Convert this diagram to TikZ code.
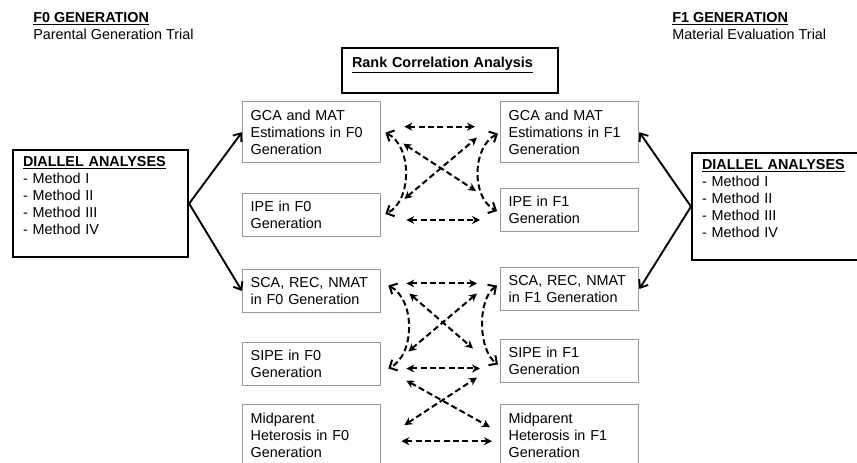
\documentclass[tikz,border=0pt]{standalone}
\usepackage{fontspec}
\setmainfont{Liberation Sans}
\usetikzlibrary{arrows.meta, calc}

\begin{document}
\begin{tikzpicture}[
    x=0.75pt, y=-0.75pt,
    every node/.style={font=\fontsize{10.8}{12.75}\selectfont},
    estbox/.style={draw=black!40, line width=1pt, anchor=north west, align=left,
      text width=91.5pt, inner xsep=6pt, inner ysep=2pt},
    tallbox/.style={estbox, minimum height=45.75pt},
    shortbox/.style={estbox, minimum height=32pt},
    thickbox/.style={draw, line width=1.6pt, anchor=north west, align=left,
      inner xsep=7.5pt, inner ysep=2pt},
    heading/.style={anchor=north west, align=left, inner sep=0pt},
    solidarrow/.style={-{Straight Barb[length=5pt,width=8pt]}, line width=1.4pt},
    dasharrow/.style={{Stealth[length=6pt,width=6pt]}-{Stealth[length=6pt,width=6pt]},
      line width=1.5pt, dash pattern=on 4.5pt off 2.5pt},
    curvearrow/.style={{Straight Barb[length=4.5pt,width=9pt]}-{Straight Barb[length=4.5pt,width=9pt]},
      line width=1.5pt, dash pattern=on 4.5pt off 2.5pt}
  ]
  \useasboundingbox (0,0) rectangle (857,463);

  % --- HEADINGS ---
  \node[heading] (hdA) at (33,12) {\underline{\textbf{F0 GENERATION}}\\Parental Generation Trial};
  \node[heading] (hdB) at (672,12) {\underline{\textbf{F1 GENERATION}}\\Material Evaluation Trial};
  \node[thickbox, text width=147pt, minimum height=33.75pt] (rank) at (341,47)
    {\underline{\textbf{Rank Correlation Analysis}}\\ \mbox{}};

  % --- DIALLEL BOXES ---
  \node[thickbox, text width=116.25pt, minimum height=80.25pt] (diaA) at (12,149)
    {\underline{\textbf{DIALLEL ANALYSES}}\\- Method I\\- Method II\\- Method III\\- Method IV\\ \mbox{}};
  \node[thickbox, text width=130pt, minimum height=80.25pt] (diaB) at (691,152)
    {\underline{\textbf{DIALLEL ANALYSES}}\\- Method I\\- Method II\\- Method III\\- Method IV\\ \mbox{}};

  % --- F0 COLUMN ---
  \node[tallbox] (gcaA) at (242,101) {GCA and MAT\\Estimations in F0\\Generation};
  \node[shortbox] (ipeA) at (242,193) {IPE in F0\\Generation};
  \node[shortbox] (scaA) at (242,269) {SCA, REC, NMAT\\in F0 Generation};
  \node[shortbox] (sipeA) at (242,342) {SIPE in F0\\Generation};
  \node[tallbox] (midA) at (242,404) {Midparent\\Heterosis in F0\\Generation};

  % --- F1 COLUMN ---
  \node[tallbox] (gcaB) at (500,101) {GCA and MAT\\Estimations in F1\\Generation};
  \node[shortbox] (ipeB) at (500,188) {IPE in F1\\Generation};
  \node[shortbox] (scaB) at (500,267) {SCA, REC, NMAT\\in F1 Generation};
  \node[shortbox] (sipeB) at (500,339) {SIPE in F1\\Generation};
  \node[tallbox] (midB) at (500,404) {Midparent\\Heterosis in F1\\Generation};

  % --- ANALYSES ---
  \draw[solidarrow] (diaA.east) -- (gcaA.west);
  \draw[solidarrow] (diaA.east) -- (scaA.west);
  \draw[solidarrow] (diaB.west) -- (gcaB.east);
  \draw[solidarrow] (diaB.west) -- (scaB.east);

  % --- CORRELATIONS, upper group ---
  \draw[dasharrow] ($(gcaA.east)+(23,-5.5)$) -- ($(gcaB.west)+(-25,-5.5)$);
  \draw[dasharrow] ($(gcaA.east)+(22,11.5)$) -- ($(ipeB.west)+(-24,-19)$);
  \draw[dasharrow] ($(ipeA.east)+(23,-16)$) -- ($(gcaB.west)+(-23,5.5)$);
  \draw[dasharrow] ($(ipeA.east)+(25,5)$) -- ($(ipeB.west)+(-20,10)$);
  \draw[curvearrow] ($(gcaA.east)+(4,0.5)$) .. controls +(27,13) and +(27,-13) .. ($(ipeA.east)+(4,-1)$);
  \draw[curvearrow] ($(gcaB.west)+(-2,1.5)$) .. controls +(-26,13) and +(-26,-13) .. ($(ipeB.west)+(-3,1)$);

  % --- CORRELATIONS, lower group ---
  \draw[dasharrow] ($(scaA.east)+(25,-7.5)$) -- ($(scaB.west)+(-23,-5.5)$);
  \draw[dasharrow] ($(scaA.east)+(28,2.5)$) -- ($(sipeB.west)+(-27,-12.5)$);
  \draw[dasharrow] ($(sipeA.east)+(27,-12.5)$) -- ($(scaB.west)+(-23,4.5)$);
  \draw[dasharrow] ($(sipeA.east)+(25,4.5)$) -- ($(sipeB.west)+(-20,7.5)$);
  \draw[dasharrow] ($(sipeA.east)+(25,16.5)$) -- ($(midB.west)+(-10,-8)$);
  \draw[dasharrow] ($(midA.east)+(23,-10)$) -- ($(sipeB.west)+(-23,16.5)$);
  \draw[dasharrow] ($(midA.east)+(20,6)$) -- ($(midB.west)+(-8,6)$);
  \draw[curvearrow] ($(scaA.east)+(7,-5.5)$) .. controls +(27,14) and +(27,-14) .. ($(sipeA.east)+(7,4.5)$);
  \draw[curvearrow] ($(scaB.west)+(-3,-3.5)$) .. controls +(-20,14) and +(-20,-14) .. ($(sipeB.west)+(-2,3.5)$);

\end{tikzpicture}
\end{document}
